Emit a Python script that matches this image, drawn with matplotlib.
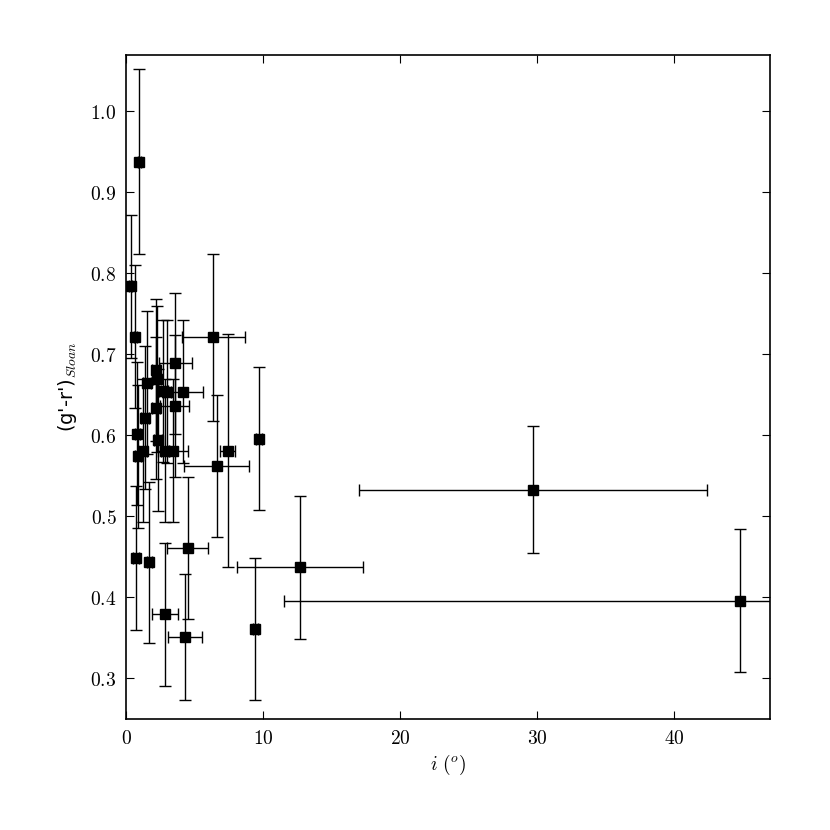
import matplotlib
matplotlib.use("Agg")
import matplotlib.pyplot as plt
from matplotlib.ticker import FuncFormatter, MultipleLocator

plt.rcParams['mathtext.fontset'] = 'cm'

# inclination (deg), colour, and errors
incl = [0.97, 0.34, 0.68, 6.37, 3.58, 2.15, 1.5, 2.24, 2.72, 3.0, 4.14, 3.53,
        2.17, 1.4, 0.82, 2.3, 1.2, 0.85, 2.85, 3.4, 6.6, 7.4, 9.7, 29.7, 44.8,
        12.7, 9.42, 4.28, 4.5, 2.8, 0.71, 1.69]
color = [0.938, 0.784, 0.722, 0.721, 0.689, 0.681, 0.665, 0.670, 0.655, 0.654,
         0.654, 0.636, 0.634, 0.622, 0.602, 0.594, 0.581, 0.574, 0.581, 0.581,
         0.562, 0.581, 0.596, 0.533, 0.396, 0.437, 0.361, 0.351, 0.461, 0.379,
         0.449, 0.443]
incl_err = [0.1, 0.1, 0.1, 2.3, 1.2, 0.3, 0.3, 0.3, 0.3, 0.3, 1.46, 1.05,
            0.3, 0.3, 0.2, 0.3, 0.3, 0.2, 0.3, 1.1, 2.35, 0.55, 0.2, 12.7, 33.3,
            4.6, 0.2, 1.25, 1.5, 0.95, 0.2, 0.2]
color_err = [0.114, 0.088, 0.088, 0.103, 0.087, 0.088, 0.088, 0.09, 0.088, 0.088,
             0.088, 0.088, 0.088, 0.088, 0.088, 0.088, 0.088, 0.088, 0.088, 0.088,
             0.088, 0.144, 0.088, 0.078, 0.088, 0.088, 0.088, 0.078, 0.088, 0.088,
             0.089, 0.1]

fig = plt.figure(figsize=(8.3, 8.3), dpi=100)
ax = fig.add_axes([0.152, 0.134, 0.776, 0.800])

ax.errorbar(incl, color, xerr=incl_err, yerr=color_err, fmt='s', color='black',
            ecolor='black', markersize=7, elinewidth=1.0, capsize=4, capthick=1.0)

ax.set_xlim(0, 47)
ax.set_ylim(0.25, 1.07)
ax.xaxis.set_major_locator(MultipleLocator(10))
ax.yaxis.set_major_locator(MultipleLocator(0.1))
ax.xaxis.set_major_formatter(FuncFormatter(lambda v, p: r'$%d$' % round(v)))
ax.yaxis.set_major_formatter(FuncFormatter(lambda v, p: r'$%.1f$' % v))
ax.tick_params(direction='in', top=True, right=True, length=6, width=0.8,
               labelsize=14, pad=7)
for s in ax.spines.values():
    s.set_linewidth(1.2)

ax.set_xlabel(r'$i\ (^o)$', fontsize=14, labelpad=4)
ax.set_ylabel(r"(g'-r')$_{Sloan}$", fontsize=14, labelpad=8)

fig.savefig('out.png', dpi=100)
